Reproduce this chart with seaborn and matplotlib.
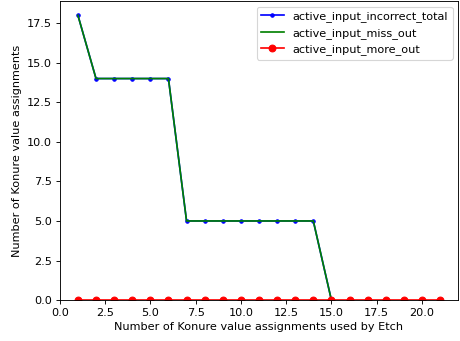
import numpy as np
import pandas as pd
import matplotlib
matplotlib.use("Agg")
import matplotlib.pyplot as plt
import seaborn as sns

# values
assign_short = [1, 2, 3, 4, 5, 6, 7, 8, 9, 10, 11, 12, 13, 14, 15]
incorrect_total = [18, 14, 14, 14, 14, 14, 5, 5, 5, 5, 5, 5, 5, 5, 0]
miss_out = [18, 14, 14, 14, 14, 14, 5, 5, 5, 5, 5, 5, 5, 5, 0]
assign_all = list(range(1, 22))
more_out = [0] * 21

# reference looks like a larger figure scaled down, so use a lower dpi
dpi = 81
fig, ax = plt.subplots(figsize=(460 / dpi, 341 / dpi), dpi=dpi)

sns.lineplot(x=assign_short, y=incorrect_total, color='blue', marker='.',
             markersize=6, markeredgecolor='blue', markeredgewidth=1,
             label='active_input_incorrect_total', ax=ax)
sns.lineplot(x=assign_short, y=miss_out, color='green',
             label='active_input_miss_out', ax=ax)
sns.lineplot(x=assign_all, y=more_out, color='red', marker='o',
             markersize=6, markeredgecolor='red', markeredgewidth=1,
             label='active_input_more_out', ax=ax)

ax.set_xlim(0, 22)
ax.set_ylim(0, 18.9)
ax.set_xlabel('Number of Konure value assignments used by Etch')
ax.set_ylabel('Number of Konure value assignments')
ax.legend(loc='upper right')

plt.subplots_adjust(left=0.13, right=0.996, bottom=0.12, top=0.997)
plt.savefig("out.png", dpi=dpi)
